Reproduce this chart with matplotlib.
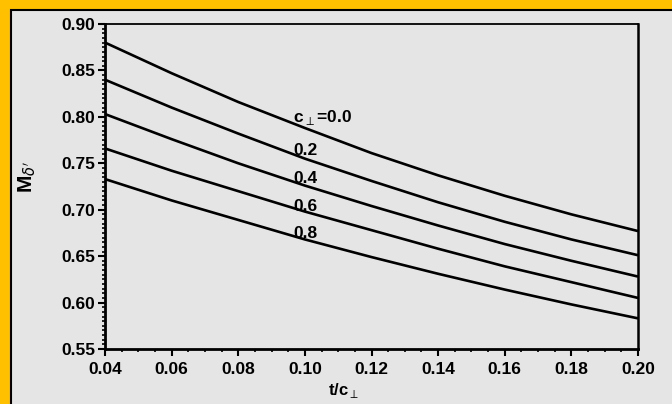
import matplotlib
matplotlib.use("Agg")
import matplotlib.pyplot as plt
from matplotlib.patches import Rectangle
from matplotlib.ticker import MultipleLocator, FormatStrFormatter

# thickness ratio t/c (perpendicular to sweep)
t_over_c = [0.04, 0.06, 0.08, 0.10, 0.12, 0.14, 0.16, 0.18, 0.20]

# drag-divergence Mach number for each lift coefficient
cl_values = ["0.0", "0.2", "0.4", "0.6", "0.8"]
m_cl00 = [0.880, 0.847, 0.816, 0.788, 0.761, 0.737, 0.715, 0.695, 0.677]
m_cl02 = [0.840, 0.810, 0.782, 0.755, 0.731, 0.708, 0.687, 0.668, 0.651]
m_cl04 = [0.803, 0.776, 0.750, 0.726, 0.704, 0.683, 0.663, 0.645, 0.628]
m_cl06 = [0.766, 0.742, 0.720, 0.698, 0.678, 0.658, 0.639, 0.622, 0.605]
m_cl08 = [0.733, 0.710, 0.689, 0.668, 0.649, 0.631, 0.614, 0.598, 0.583]
series = [m_cl00, m_cl02, m_cl04, m_cl06, m_cl08]

x_ticks = [0.04, 0.06, 0.08, 0.10, 0.12, 0.14, 0.16, 0.18, 0.20]
y_ticks = [0.55, 0.60, 0.65, 0.70, 0.75, 0.80, 0.85, 0.90]

BG = "#E5E5E5"
GOLD = "#FFC000"
W, H = 672, 404

fig = plt.figure(figsize=(W / 100, H / 100), dpi=100, facecolor=GOLD)
# grey panel with a thin black frame, gold margin on top and left
fig.patches.append(Rectangle((11 / W, -0.01), 1.02, (H - 10) / H + 0.01,
                             transform=fig.transFigure, facecolor=BG,
                             edgecolor="black", linewidth=1.5, zorder=-5))

ax = fig.add_axes([105 / W, 1 - 349 / H, 533 / W, 325 / H])
ax.set_zorder(2)
ax.set_facecolor(BG)

for vals in series:
    ax.plot(t_over_c, vals, color="black", linewidth=1.9, solid_capstyle="butt")

ax.set_xlim(0.04, 0.20)
ax.set_ylim(0.55, 0.90)
ax.set_xticks(x_ticks)
ax.set_yticks(y_ticks)
ax.xaxis.set_major_formatter(FormatStrFormatter("%.2f"))
ax.yaxis.set_major_formatter(FormatStrFormatter("%.2f"))
ax.xaxis.set_minor_locator(MultipleLocator(0.005))
ax.yaxis.set_minor_locator(MultipleLocator(0.005))

font = dict(family="Liberation Sans", weight="bold")
for lab in ax.get_xticklabels() + ax.get_yticklabels():
    lab.set_fontfamily("Liberation Sans")
    lab.set_fontweight("bold")
    lab.set_fontsize(12.5)

ax.tick_params(axis="both", which="major", direction="out", length=5,
               width=1.5, color="black")
ax.tick_params(axis="both", which="minor", direction="out", length=2.5,
               width=1.2, color="black")
ax.tick_params(axis="x", which="major", pad=4)
ax.tick_params(axis="y", which="major", pad=2)

ax.spines["left"].set_linewidth(2.0)
ax.spines["bottom"].set_linewidth(2.0)
ax.spines["right"].set_linewidth(1.8)
ax.spines["top"].set_linewidth(1.3)

ax.set_xlabel(r"t/c$_{\perp}$", fontsize=12, **font)
ax.xaxis.set_label_coords(0.447, -0.10)
ax.set_ylabel(r"M$_{\delta'}$", fontsize=15, **font)
ax.yaxis.set_label_coords(-0.125, 0.53)

# curve annotations
label_x = 0.0964
label_y = [0.7945, 0.759, 0.729, 0.6986, 0.6696]
for i, (cl, yy) in enumerate(zip(cl_values, label_y)):
    txt = r"c$_{\perp}$=" + cl if i == 0 else cl
    ax.text(label_x, yy, txt, fontsize=12.5, ha="left", va="baseline", **font)

fig.savefig("out.png", dpi=100, facecolor=GOLD)
